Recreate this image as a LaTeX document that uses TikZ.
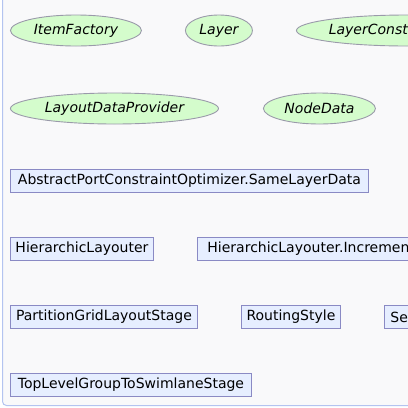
\documentclass[tikz,border=0pt]{standalone}
\usepackage{fontspec}
\setmainfont{DejaVu Sans}
\usetikzlibrary{shapes.geometric}
\definecolor{bgfill}{HTML}{F9F9FA}
\definecolor{framec}{HTML}{B4C4F0}
\definecolor{ifill}{HTML}{D4FCCC}
\definecolor{idraw}{HTML}{9A9AAA}
\definecolor{cfill}{HTML}{E6EEFF}
\definecolor{cdraw}{HTML}{8A8AC4}
\tikzset{
  x=1pt, y=-1pt,
  iface/.style={ellipse, draw=idraw, fill=ifill, line width=0.9pt, inner sep=0pt,
    minimum height=31pt, anchor=west, font=\fontsize{14}{16}\selectfont\itshape},
  cls/.style={rectangle, draw=cdraw, fill=cfill, line width=0.9pt, inner sep=0pt,
    minimum height=23pt, anchor=west, font=\fontsize{14}{16}\selectfont},
}
\begin{document}
\begin{tikzpicture}
\useasboundingbox (0,0) rectangle (408,408);
\clip (0,0) rectangle (408,408);
\fill[white] (0,0) rectangle (408,408);
\draw[framec, fill=bgfill, line width=1pt, rounded corners=4pt] (2.5,-10) -- (2.5,405.5) -- (420,405.5) -- (420,-10);
% interfaces
\node[iface, minimum width=131pt] (itemfactory) at (10,30.5) {ItemFactory};
\node[iface, minimum width=67pt] (layer) at (185,30.5) {Layer};
\node[iface, minimum width=220pt] (layerconst) at (296,30.5) {\makebox[156pt][l]{LayerConst}};
\node[iface, minimum width=208pt] (layoutdata) at (10,108.5) {LayoutDataProvider};
\node[iface, minimum width=112pt] (nodedata) at (263,108.5) {NodeData};
% classes
\node[cls, minimum width=358pt] (sameLayer) at (10,181) {AbstractPortConstraintOptimizer.SameLayerData};
\node[cls, minimum width=143pt] (hl) at (10,249) {HierarchicLayouter};
\node[cls, minimum width=240pt] (hlinc) at (197,249) {\makebox[220pt][l]{HierarchicLayouter.Incremen}};
\node[cls, minimum width=187pt] (pgls) at (10,317) {PartitionGridLayoutStage};
\node[cls, minimum width=99pt] (routing) at (241,317) {RoutingStyle};
\node[cls, minimum width=140pt] (se) at (384,317) {\makebox[128pt][l]{Se}};
\node[cls, minimum width=241pt] (toplevel) at (10,385) {TopLevelGroupToSwimlaneStage};
\end{tikzpicture}
\end{document}
